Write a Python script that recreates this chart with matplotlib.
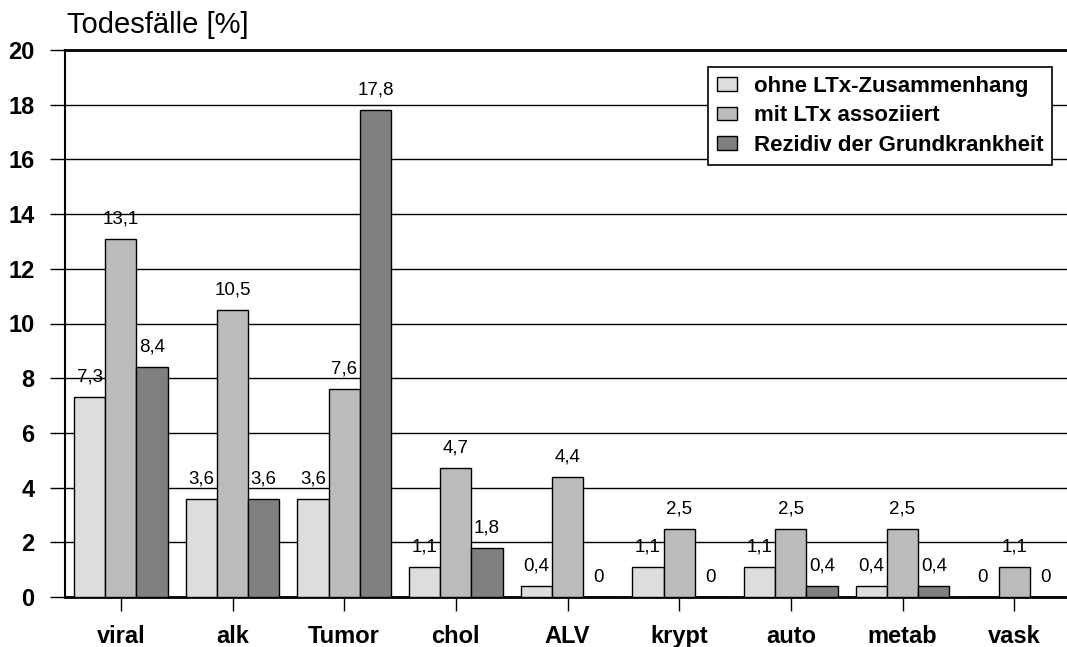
import numpy as np
import matplotlib
matplotlib.use("Agg")
import matplotlib.pyplot as plt

plt.rcParams["font.family"] = ["Liberation Sans", "DejaVu Sans"]

categories = ["viral", "alk", "Tumor", "chol", "ALV", "krypt", "auto", "metab", "vask"]
series_names = ["ohne LTx-Zusammenhang", "mit LTx assoziiert", "Rezidiv der Grundkrankheit"]
ohne = [7.3, 3.6, 3.6, 1.1, 0.4, 1.1, 1.1, 0.4, 0.0]
mit = [13.1, 10.5, 7.6, 4.7, 4.4, 2.5, 2.5, 2.5, 1.1]
rezidiv = [8.4, 3.6, 17.8, 1.8, 0.0, 0.0, 0.4, 0.4, 0.0]
y_ticks = [0, 2, 4, 6, 8, 10, 12, 14, 16, 18, 20]

colors = ["#DDDDDD", "#BBBBBB", "#808080"]

fig = plt.figure(figsize=(10.67, 6.47), dpi=100)
ax = fig.add_axes([65 / 1067, 1 - 597 / 647, 1005 / 1067, 547 / 647])

x = np.arange(len(categories))
w = 0.28
for i, (vals, name, col) in enumerate(zip([ohne, mit, rezidiv], series_names, colors)):
    pos = x + (i - 1) * w
    ax.bar(pos, vals, width=w, color=col, edgecolor="black", linewidth=1.0,
           label=name, zorder=3)
    for px, v in zip(pos, vals):
        txt = f"{v:.1f}".replace(".", ",") if v != 0 else "0"
        ax.text(px, v + 0.42, txt, ha="center", va="bottom", fontsize=13.5, zorder=4)

ax.set_xlim(-0.5, len(categories) - 0.5)
ax.set_ylim(0, 20)
ax.set_yticks(y_ticks)
ax.set_yticklabels([str(t) for t in y_ticks], fontsize=17, fontweight="bold")
ax.set_xticks(x)
ax.set_xticklabels(categories, fontsize=17, fontweight="bold")
ax.tick_params(axis="y", length=11, width=1, pad=11)
ax.tick_params(axis="x", length=10, width=1, pad=10)
ax.yaxis.grid(True, color="black", linewidth=1, zorder=0)
ax.set_axisbelow(True)

ax.spines["left"].set_linewidth(1.5)
ax.spines["bottom"].set_linewidth(2)
ax.spines["top"].set_linewidth(2)
ax.spines["right"].set_visible(False)

leg = ax.legend(loc="upper right", bbox_to_anchor=(0.982, 0.969),
                bbox_transform=ax.transAxes, fancybox=False, frameon=True,
                prop={"size": 16, "weight": "bold"}, handlelength=0.9, handleheight=0.55,
                handletextpad=0.75, labelspacing=0.38, borderpad=0.4, borderaxespad=0)
leg.get_frame().set_edgecolor("black")
leg.get_frame().set_linewidth(1.2)
leg.get_frame().set_alpha(1)

fig.text(67 / 1067, 1 - 33 / 647, "Todesfälle [%]", fontsize=21, va="baseline", ha="left")

fig.savefig("out.png", dpi=100)
